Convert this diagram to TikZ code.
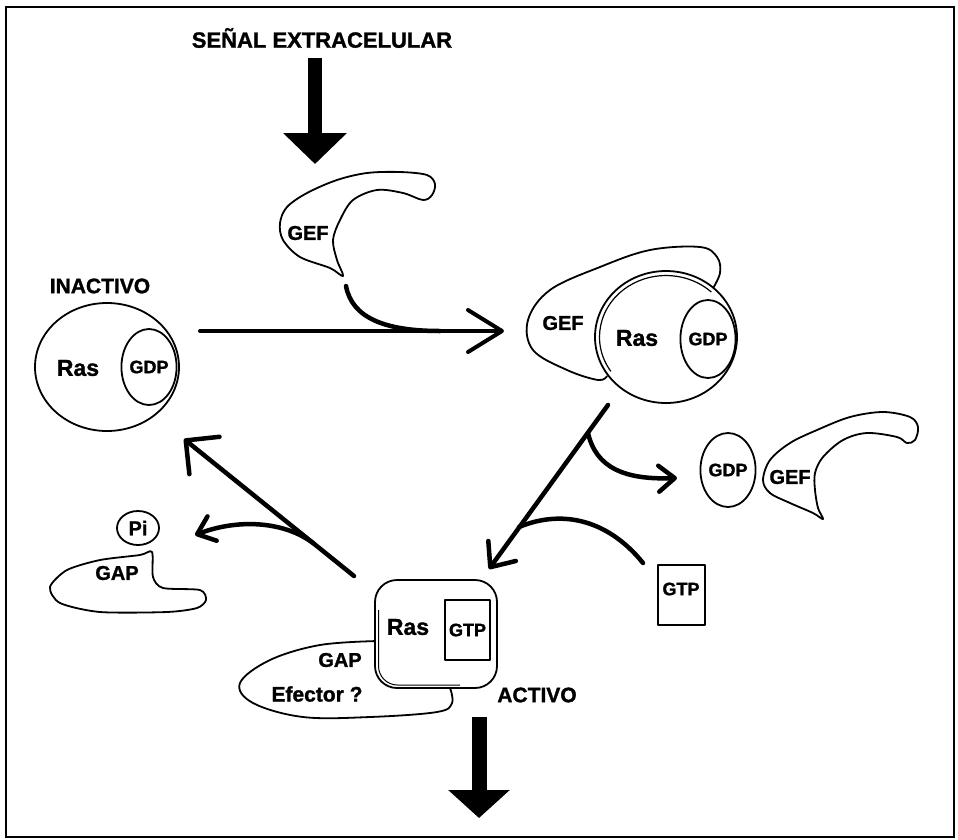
\documentclass[tikz,border=0pt]{standalone}
\usepackage{fontspec}
\setmainfont{Liberation Sans}[BoldFeatures={FakeBold=1.3}]
\usetikzlibrary{arrows.meta,shapes.geometric,calc}
\begin{document}
\begin{tikzpicture}[x=1pt,y=-1pt,
  outl/.style={line width=1.8pt,line join=round},
  lbl/.style={font=\bfseries\fontsize{#1}{#1}\selectfont,inner sep=0pt},
  lbl/.default=20,
  thickline/.style={line width=4.5pt,line cap=round},
  barbL/.style={thickline,-{Straight Barb[length=24pt,width=48pt,round]}},
  barbM/.style={thickline,-{Straight Barb[length=20pt,width=34pt,round]}},
  barbH/.style={line width=4pt,line cap=round,-{Straight Barb[length=34pt,width=42pt,round]}},
  barbS/.style={thickline,-{Straight Barb[length=16pt,width=26pt,round]}},
  shapebox/.style={draw,outl,fill=white}
]
\useasboundingbox (0,0) rectangle (958,839);
\draw[line width=2.5pt] (6,7) rectangle (954,837);

% title and input arrow
\node[lbl=22] (title) at (322,38) {SEÑAL EXTRACELULAR};
\coordinate (a1) at (315,58);
\coordinate (a2) at (315,164);
\draw[line width=14pt,-{Triangle[length=31pt,width=62pt]}] (a1) -- (a2);

% free GEF (top)
\draw[outl] plot[smooth cycle,tension=0.55] coordinates {(343,276) (330,268) (300,257) (283,240) (280,223) (287,207) (307,193) (337,180) (367,173) (400,172) (427,175) (435,184) (432,195) (423,200) (403,193) (377,190) (353,200) (340,220) (333,240) (337,260)};
\node[lbl=20] (gefT) at (308,233) {GEF};

% inactive Ras
\node[lbl=21] (inact) at (100,286) {INACTIVO};
\node[ellipse,shapebox,minimum width=144,minimum height=128] (rasI) at (107,367) {};
\node[ellipse,shapebox,minimum width=52,minimum height=76,lbl=18] (gdpI) at (149,367) {GDP};
\node[lbl=23] (rasIt) at (78,368) {Ras};

% horizontal arrow with GEF joining
\coordinate (h1) at (200,331);
\coordinate (h2) at (504,331);
\coordinate (gefTip) at (346,286);
\coordinate (hj) at (440,331);
\draw[barbH] (h1) -- (h2);
\draw[thickline] (gefTip) .. controls (352,318) and (385,331) .. (hj);

% GEF-Ras complex
\draw[outl] plot[smooth,tension=0.6] coordinates {(712,290) (720,273) (717,257) (700,247) (650,250) (600,267) (550,290) (528,320) (533,350) (567,370) (598,380) (607,376)};
\node[ellipse,shapebox,minimum width=142,minimum height=132] (rasC) at (666,337) {};
\draw[line width=1.2pt] ([shift={(146:66.5 and 61.5)}]rasC.center) arc[start angle=146,end angle=313,x radius=66.5,y radius=61.5];
\node[lbl=20] (gefC) at (563,323) {GEF};
\node[lbl=23] (rasCt) at (637,338) {Ras};
\node[ellipse,shapebox,minimum width=50,minimum height=78,lbl=18] (gdpC) at (708,339) {GDP};

% released GDP and GEF
\node[ellipse,shapebox,minimum width=46,minimum height=74,lbl=18] (gdpF) at (728,470) {GDP};
\draw[outl] plot[smooth cycle,tension=0.55] coordinates {(763,480) (770,460) (790,443) (817,430) (850,417) (883,412) (910,417) (918,427) (915,440) (907,443) (897,437) (867,433) (843,440) (823,457) (815,473) (815,490) (818,508) (823,519) (813,513) (790,503) (770,493)};
\node[lbl=20] (gefF) at (790,477) {GEF};

% diagonal arrow to active Ras
\coordinate (d1) at (608,405);
\coordinate (d2) at (489,569);
\draw[barbM] (d1) -- (d2);
\coordinate (c1) at (588,433);
\coordinate (c2) at (677,478);
\draw[barbS] (c1) .. controls (596,468) and (625,480) .. (c2);

% free GTP
\node[draw,outl,minimum width=47,minimum height=60] (gtpF) at (681.5,595) {};
\node[lbl=18] (gtpFt) at (681,589) {GTP};
\coordinate (g1) at (643,563);
\coordinate (g2) at (519,527);
\draw[thickline] (g1) .. controls (610,522) and (565,508) .. (g2);

% active Ras with GAP / effector
\draw[outl] plot[smooth,tension=0.6] coordinates {(378,641) (320,645) (270,660) (240,683) (253,703) (303,717) (370,717) (437,712) (452,703) (450,688)};
\node[draw,outl,fill=white,rounded corners=22,minimum width=122,minimum height=108] (rasA) at (436,634) {};
\draw[line width=1pt] (378.5,610) -- (378.5,666) arc[start angle=180,end angle=90,radius=19] -- (460,685);
\node[draw,outl,minimum width=45,minimum height=60,lbl=18] (gtpA) at (467.5,630) {GTP};
\node[lbl=23] (rasAt) at (408,627) {Ras};
\node[lbl=20] (gapA) at (340,660) {GAP};
\node[lbl=21] (efec) at (317,694) {Efector ?};
\node[lbl=21] (activo) at (537,695) {ACTIVO};

% output arrow
\coordinate (b1) at (479,717);
\coordinate (b2) at (479,818);
\draw[line width=15pt,-{Triangle[length=28pt,width=60pt]}] (b1) -- (b2);

% back to inactive, with GAP + Pi released
\coordinate (e1) at (354,576);
\coordinate (e2) at (184,439);
\draw[barbL] (e1) -- (e2);
\coordinate (p1) at (313,543);
\coordinate (p2) at (195,535);
\draw[barbS] (p1) .. controls (285,522) and (240,518) .. (p2);
\node[ellipse,shapebox,minimum width=42,minimum height=34,lbl=20] (pi) at (138,528) {Pi};
\draw[outl] plot[smooth cycle,tension=0.45] coordinates {(50,587) (67,570) (100,560) (140,555) (152,552) (153,577) (163,588) (200,590) (206,600) (197,608) (167,612) (100,612) (60,603)};
\node[lbl=20] (gapL) at (117,573) {GAP};
\end{tikzpicture}
\end{document}
